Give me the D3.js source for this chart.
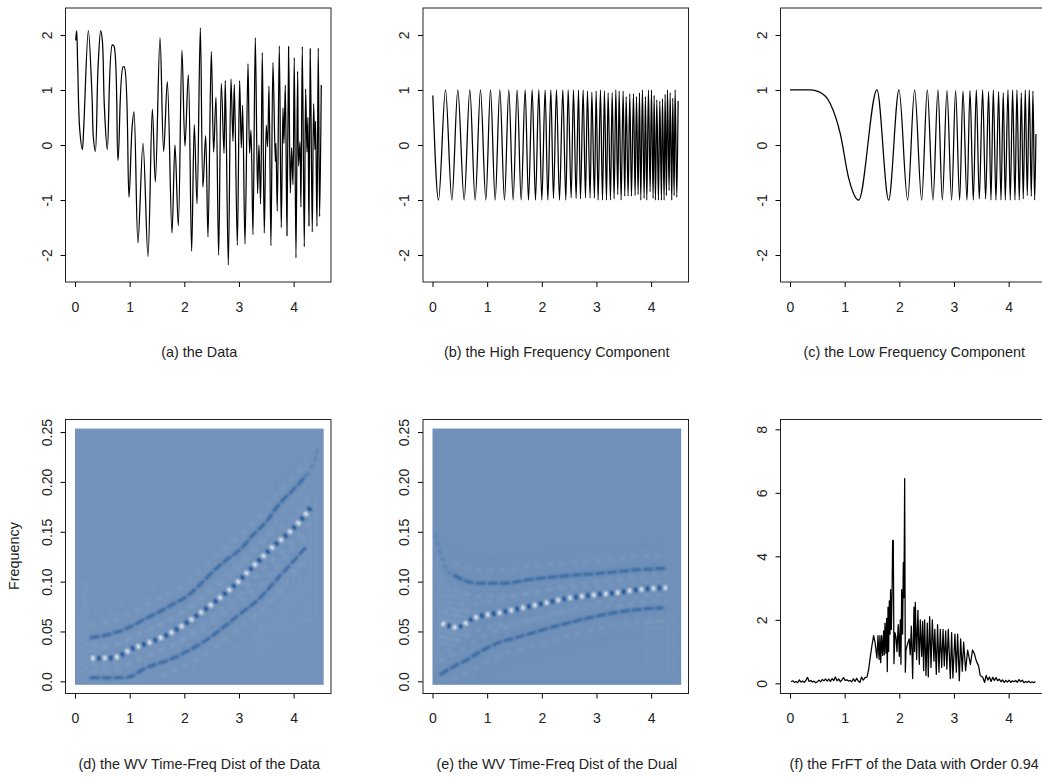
<!DOCTYPE html>
<html>
<head>
<meta charset="utf-8">
<script src="https://cdnjs.cloudflare.com/ajax/libs/d3/7.8.5/d3.min.js"></script>
<style>
  html, body { margin: 0; padding: 0; background: #fff; overflow: hidden; }
  text { font-family: "Liberation Sans", Arial, sans-serif; fill: #222; }
</style>
</head>
<body>
<div id="graph-container"></div>
<script>
// values (turning points of each trace)
const dataT = [0.012,0.03,0.049,0.085,0.134,0.159,0.244,0.311,0.335,0.372,0.421,0.47,0.5,0.537,0.591,0.683,0.713,0.787,0.878,0.902,0.988,1.043,1.079,1.152,1.244,1.335,1.415,1.47,1.555,1.622,1.689,1.774,1.829,1.89,1.957,2.012,2.073,2.134,2.183,2.232,2.293,2.341,2.39,2.433,2.494,2.537,2.579,2.628,2.677,2.726,2.75,2.805,2.854,2.89,2.915,2.97,3.012,3.043,3.067,3.11,3.165,3.195,3.22,3.256,3.299,3.341,3.366,3.396,3.427,3.463,3.5,3.524,3.549,3.585,3.622,3.665,3.677,3.701,3.738,3.774,3.805,3.823,3.848,3.878,3.909,3.939,3.963,3.988,4.012,4.043,4.073,4.091,4.116,4.134,4.159,4.195,4.22,4.244,4.262,4.28,4.305,4.341,4.366,4.39,4.402,4.427,4.451,4.476,4.506];
const dataY = [1.9,2.08,1.45,0.3,-0.08,0.3,2.08,0.9,0.15,-0.12,1.4,2.08,1.9,0.7,-0.08,1.82,1.8,-0.28,1.42,1.42,-0.95,0.3,0.6,-1.78,0.03,-2.03,0.65,-0.67,1.95,-0.12,1.15,-1.6,0,-1.47,1.72,-0.02,1.28,-1.93,0.37,-1.07,2.13,-0.77,0.17,-1.67,1.7,-0.13,0.87,-2,1.12,-0.15,1.17,-2.18,1.2,0.07,1.1,-1.82,1.17,-0.05,0.72,-1.8,1.48,-0.15,0.27,-1.63,1.95,-0.88,0,-1.07,1.68,-1.6,0.36,-0.03,1.07,-1.83,1.5,-0.3,0.03,-1.2,1.8,-1.5,0.67,0.03,1.09,-1.65,1.79,-0.87,-0.05,-0.72,1.59,-2.05,1.34,-0.38,0.06,-1.13,1.79,-1.85,1.02,-0.13,0.5,-1.47,1.75,-1.58,0.75,-0.08,0.43,-1.48,1.76,-1.3,1.09];

const highT = [0.006,0.11,0.238,0.354,0.463,0.579,0.683,0.78,0.878,0.976,1.061,1.146,1.232,1.317,1.396,1.476,1.549,1.622,1.695,1.756,1.823,1.884,1.945,2,2.061,2.11,2.165,2.213,2.268,2.323,2.384,2.439,2.482,2.537,2.579,2.628,2.671,2.707,2.756,2.799,2.835,2.884,2.915,2.963,2.994,3.03,3.073,3.11,3.146,3.183,3.213,3.256,3.287,3.323,3.354,3.39,3.415,3.451,3.488,3.518,3.543,3.579,3.61,3.64,3.677,3.707,3.732,3.762,3.787,3.811,3.841,3.872,3.896,3.921,3.951,3.982,4.006,4.037,4.055,4.079,4.104,4.134,4.159,4.189,4.207,4.238,4.256,4.28,4.299,4.329,4.348,4.378,4.396,4.421,4.439,4.47,4.494];
const highY = [0.9,-1,1,-1,1,-1,1,-1,1,-1,1,-1,1,-1,1,-1,1,-1,1,-1,1,-1,1,-1,1,-1,1,-0.97,1,-1,1,-1,1,-0.96,1,-0.97,1,-0.98,1,-0.96,0.98,-0.96,0.96,-0.96,0.98,-1,1,-1,0.98,-1,0.95,-1,0.95,-0.98,1,-0.9,0.98,-1,0.98,-0.93,0.88,-0.93,0.93,-0.93,0.93,-0.92,0.88,-0.9,0.95,-1,1,-0.97,0.88,-1,1,-0.85,1,-0.97,0.9,-1,0.82,-1,0.8,-1,0.84,-1,0.92,-0.92,1,-0.83,0.95,-1,0.85,-0.92,1,-0.95,0.8];

const lowT = [0,0.159,0.372,0.524,0.738,0.921,1.073,1.256,1.591,1.805,1.994,2.152,2.28,2.409,2.512,2.616,2.707,2.787,2.872,2.957,3.03,3.104,3.165,3.238,3.293,3.354,3.409,3.463,3.524,3.579,3.634,3.677,3.72,3.768,3.817,3.86,3.902,3.939,3.988,4.03,4.073,4.116,4.152,4.195,4.232,4.268,4.305,4.341,4.378,4.415,4.445,4.476,4.5];
const lowY = [1,1,1,0.97,0.75,0.2,-0.6,-1,1,-1,1,-1,1,-1,1,-1,1,-1,0.99,-1,0.99,-1,0.98,-1,0.99,-1,1,-0.98,1,-0.98,0.97,-1,1,-1,0.97,-1,0.95,-1,1,-1,1,-1,1,-1,0.95,-0.98,1,-0.92,1,-0.93,0.98,-1,0.2];

const frftT = [0.02,0.05,0.08,0.11,0.14,0.17,0.2,0.23,0.26,0.29,0.32,0.35,0.38,0.41,0.44,0.47,0.5,0.53,0.56,0.59,0.62,0.65,0.68,0.71,0.74,0.77,0.8,0.83,0.86,0.89,0.92,0.95,0.98,1.01,1.04,1.07,1.1,1.13,1.16,1.19,1.22,1.25,1.28,1.31,1.34,1.37,1.41,1.44,1.47,1.5,1.53,1.555,1.58,1.59,1.61,1.63,1.646,1.66,1.677,1.695,1.713,1.726,1.738,1.756,1.768,1.78,1.793,1.805,1.817,1.83,1.84,1.854,1.866,1.878,1.89,1.902,1.92,1.94,1.957,1.98,2,2.018,2.03,2.043,2.06,2.073,2.085,2.098,2.11,2.122,2.152,2.18,2.2,2.22,2.244,2.268,2.28,2.293,2.317,2.34,2.366,2.384,2.41,2.427,2.445,2.463,2.488,2.512,2.53,2.555,2.58,2.604,2.634,2.65,2.677,2.7,2.726,2.75,2.775,2.8,2.823,2.848,2.87,2.896,2.933,2.957,2.98,3.018,3.043,3.067,3.098,3.122,3.152,3.177,3.213,3.25,3.3,3.34,3.37,3.41,3.45,3.48,3.524,3.56,3.59,3.62,3.65,3.68,3.71,3.74,3.77,3.8,3.83,3.86,3.89,3.92,3.95,3.98,4.01,4.04,4.07,4.1,4.13,4.16,4.19,4.22,4.25,4.28,4.31,4.34,4.37,4.4,4.43,4.46,4.49];
const frftY = [0.05,0.08,0.03,0.06,0.02,0.11,0.04,0.07,0.03,0.09,0.19,0.06,0.09,0.04,0.07,0.02,0.05,0.1,0.05,0.12,0.08,0.14,0.07,0.13,0.06,0.15,0.09,0.2,0.08,0.14,0.05,0.11,0.18,0.09,0.11,0.07,0.09,0.05,0.14,0.06,0.16,0.07,0.03,0.2,0.1,0.17,0.2,0.45,0.85,1.2,1.5,1.3,0.95,0.8,1.5,0.75,1.5,0.65,1.5,0.88,1.65,0.9,1.9,0.95,2.05,0.37,2.4,1,2.6,1.55,2.95,1.7,2.7,4.5,4.5,0.62,1.6,1.45,1,1.85,0.85,2,0.6,2.95,1.55,3.8,2.7,6.45,0.35,1.05,1.25,1.4,0.9,1.8,0.15,2.4,1,2.55,0.75,2.3,0.6,2,0.85,1.95,0.4,2,0.25,1.9,0.2,2.1,0.5,2,0.7,1.7,0.28,1.85,0.35,1.7,0.5,1.7,0.55,1.65,0.45,1.7,0.15,1.6,0.17,1.55,0.35,1.55,0.08,1.4,0.38,1.3,0.4,1.05,0.6,1.05,0.95,0.7,0.55,0.25,0.2,0.03,0.25,0.1,0.2,0.06,0.19,0.09,0.18,0.08,0.13,0.05,0.11,0.03,0.09,0.04,0.1,0.03,0.08,0.05,0.09,0.03,0.12,0.05,0.1,0.02,0.06,0.03,0.07,0.02,0.05,0.02,0.06];

// ridges of the two time-frequency images
const dUpperT = [0.268,0.726,0.97,1.244,1.549,1.793,2.037,2.28,2.524,2.768,3.012,3.256,3.5,3.744,3.988,4.232];
const dUpperF = [0.0434,0.0488,0.0535,0.0615,0.0699,0.0775,0.0849,0.0966,0.11,0.1217,0.1317,0.1467,0.16,0.1785,0.1918,0.2069];
const dLowerT = [0.268,0.94,1.305,1.793,2.037,2.402,2.768,3.073,3.378,3.683,3.988,4.232];
const dLowerF = [0.0037,0.0037,0.0137,0.0231,0.0297,0.0414,0.0565,0.0699,0.0832,0.1016,0.12,0.135];
const dMiddleT = [0.3,0.695,1.061,1.427,1.793,2.159,2.524,2.89,3.256,3.622,3.866,4.11,4.323];
const dMiddleF = [0.0231,0.0237,0.0331,0.0404,0.0498,0.0632,0.0782,0.0949,0.115,0.135,0.1467,0.1601,0.1751];
const dFadeT = [4.232,4.384,4.45];
const dFadeF = [0.2069,0.2219,0.235];

const eUpperT = [0.384,0.567,0.811,1.238,1.848,2.457,3.067,3.677,4.287];
const eUpperF = [0.1066,0.1016,0.0983,0.0983,0.1026,0.1059,0.1083,0.1116,0.1133];
const eLowerT = [0.14,0.323,0.567,0.872,1.177,1.482,1.848,2.152,2.457,2.823,3.189,3.677,4.226];
const eLowerF = [0.0064,0.013,0.0197,0.0297,0.0381,0.0431,0.0488,0.0538,0.0582,0.0632,0.0675,0.0715,0.0739];
const eMiddleT = [0.171,0.445,0.75,1.238,1.604,2.03,2.457,2.945,3.372,3.799,4.287];
const eMiddleF = [0.0582,0.0541,0.0632,0.0689,0.0732,0.0782,0.0832,0.0866,0.0889,0.0922,0.0939];
const eFadeT = [0.049,0.14,0.232,0.384];
const eFadeF = [0.1484,0.1283,0.115,0.1066];

// patches of fine ripple: column time, lowest and highest frequency
const dRippleT = [0.06,0.1,0.14,0.18,0.22,3.3,3.4,3.5,3.6,3.7,3.8,3.9,4,4.1,4.2,4.3,4.4];
const dRippleLo = [0.008,0.008,0.01,0.012,0.012,0.02,0.025,0.03,0.04,0.045,0.05,0.05,0.055,0.06,0.06,0.06,0.06];
const dRippleHi = [0.055,0.07,0.09,0.1,0.1,0.07,0.075,0.085,0.095,0.1,0.11,0.115,0.125,0.135,0.15,0.165,0.19];
const eRippleT = [0.08,0.12,0.16,0.2,0.24,0.28,0.32,0.36,0.4,0.44,0.48,0.52,0.56,0.6,0.64,0.68,3.9,4,4.1,4.2,4.3,4.4];
const eRippleLo = [0.015,0.02,0.02,0.025,0.03,0.03,0.03,0.035,0.035,0.04,0.04,0.04,0.045,0.045,0.05,0.05,0.015,0.015,0.01,0.01,0.01,0.01];
const eRippleHi = [0.14,0.125,0.115,0.105,0.1,0.095,0.095,0.09,0.09,0.09,0.09,0.09,0.09,0.09,0.09,0.09,0.06,0.06,0.065,0.065,0.07,0.07];

const timeTicks = [0, 1, 2, 3, 4];
const ampTicks = [-2, -1, 0, 1, 2];
const freqTicks = [0, 0.05, 0.1, 0.15, 0.2, 0.25];
const frftTicks = [0, 2, 4, 6, 8];
const fringeOffsets = [-0.024, -0.013, 0.013, 0.024];

const boxW = 265.5, boxH = 274;
const xDomain = [-0.174, 4.684];

let svg = d3.select("#graph-container")
  .append("svg")
  .attr("width", 1042)
  .attr("height", 777)
  .style("display", "block");

svg.append("defs").append("filter").attr("id", "soft")
  .attr("x", "-5%").attr("y", "-5%").attr("width", "110%").attr("height", "110%")
  .append("feGaussianBlur").attr("stdDeviation", 0.8);

function makePanel(left, top, yDomain, yTicks, yFormat, caption) {
  let g = svg.append("g").attr("transform", "translate(" + left + "," + top + ")");
  let x = d3.scaleLinear().domain(xDomain).range([0, boxW]);
  let y = d3.scaleLinear().domain(yDomain).range([boxH, 0]);

  let xAxis = g.append("g")
    .attr("transform", "translate(0," + boxH + ")")
    .call(d3.axisBottom(x).tickValues(timeTicks).tickFormat(d => String(d)).tickSize(5).tickPadding(15));
  xAxis.select(".domain").remove();
  xAxis.selectAll("text").attr("font-size", 14).attr("font-family", null);

  let yAxis = g.append("g")
    .call(d3.axisLeft(y).tickValues(yTicks).tickFormat(yFormat).tickSize(5));
  yAxis.select(".domain").remove();
  // R style: labels turned along the axis
  yAxis.selectAll("text")
    .attr("font-size", 14)
    .attr("font-family", null)
    .attr("text-anchor", "middle")
    .attr("x", null).attr("dy", null)
    .attr("transform", "translate(-14,0) rotate(-90)");

  g.append("text")
    .attr("x", boxW / 2 + 1)
    .attr("y", boxH + 75)
    .attr("text-anchor", "middle")
    .attr("font-size", 14.4)
    .text(caption);

  return {g, x, y};
}

function addBox(p) {
  p.g.append("rect")
    .attr("width", boxW).attr("height", boxH)
    .attr("fill", "none").attr("stroke", "#222").attr("stroke-width", 1);
}

function drawTrace(p, ts, vs, curve) {
  let line = d3.line().x(d => p.x(d[0])).y(d => p.y(d[1])).curve(curve);
  p.g.append("path")
    .datum(d3.zip(ts, vs))
    .attr("d", line)
    .attr("fill", "none")
    .attr("stroke", "#000")
    .attr("stroke-width", 1.25)
    .attr("stroke-linejoin", "round");
}

function drawImage(p, bg, upper, lower, middle, fade, ripple) {
  p.g.append("rect")
    .attr("x", p.x(0)).attr("y", p.y(0.2535))
    .attr("width", p.x(4.55) - p.x(0))
    .attr("height", p.y(-0.0035) - p.y(0.2535))
    .attr("fill", bg);

  let inner = p.g.append("g").attr("filter", "url(#soft)");
  let line = d3.line().x(d => p.x(d[0])).y(d => p.y(d[1])).curve(d3.curveMonotoneX);

  // fine ripple patches
  inner.selectAll("line.ripple")
    .data(d3.zip(ripple[0], ripple[1], ripple[2]))
    .enter()
    .append("line")
      .attr("class", "ripple")
      .attr("x1", d => p.x(d[0]))
      .attr("x2", d => p.x(d[0]))
      .attr("y1", d => p.y(d[1]))
      .attr("y2", d => p.y(d[2]))
      .attr("stroke", "#a9c0dc")
      .attr("stroke-opacity", 0.22)
      .attr("stroke-width", 1.5)
      .attr("stroke-dasharray", "3 3");

  // faint side fringes next to the ridges
  [upper, lower, middle].forEach(r => {
    fringeOffsets.forEach(off => {
      inner.append("path")
        .datum(d3.zip(r[0], r[1].map(f => Math.max(0.001, f + off))))
        .attr("d", line)
        .attr("fill", "none")
        .attr("stroke", Math.abs(off) > 0.015 ? "#5b80b0" : "#9db5d4")
        .attr("stroke-opacity", 0.2)
        .attr("stroke-width", 3)
        .attr("stroke-dasharray", "6 6");
    });
  });

  inner.append("path")
    .datum(d3.zip(fade[0], fade[1]))
    .attr("d", line)
    .attr("fill", "none")
    .attr("stroke", "#4f79ae")
    .attr("stroke-opacity", 0.6)
    .attr("stroke-width", 3)
    .attr("stroke-dasharray", "5 3");

  [upper, lower].forEach(r => {
    inner.append("path")
      .datum(d3.zip(r[0], r[1]))
      .attr("d", line)
      .attr("fill", "none")
      .attr("stroke", "#30649f")
      .attr("stroke-opacity", 0.9)
      .attr("stroke-width", 3)
      .attr("stroke-dasharray", "10 2");
  });

  // middle ridge flips between dark and pale
  let mid = d3.zip(middle[0], middle[1]);
  inner.append("path").datum(mid).attr("d", line)
    .attr("fill", "none").attr("stroke", "#f0f4f9").attr("stroke-width", 4.5)
    .attr("stroke-dasharray", "3 9");
  inner.append("path").datum(mid).attr("d", line)
    .attr("fill", "none").attr("stroke", "#0b4a92").attr("stroke-width", 4.5)
    .attr("stroke-dasharray", "3 9").attr("stroke-dashoffset", -6);
}

// top row
const intFormat = d => String(d);
let pa = makePanel(65.5, 8, [-2.49, 2.49], ampTicks, intFormat, "(a) the Data");
drawTrace(pa, dataT, dataY, d3.curveCatmullRom.alpha(0.5));
addBox(pa);

let pb = makePanel(423, 8, [-2.49, 2.49], ampTicks, intFormat, "(b) the High Frequency Component");
drawTrace(pb, highT, highY, d3.curveMonotoneX);
addBox(pb);

let pc = makePanel(780.5, 8, [-2.49, 2.49], ampTicks, intFormat, "(c) the Low Frequency Component");
drawTrace(pc, lowT, lowY, d3.curveMonotoneX);
addBox(pc);

// bottom row
const freqFormat = d => d === 0 ? "0.0" : d3.format(".2f")(d);
let pd = makePanel(65.5, 419.5, [-0.0122, 0.2626], freqTicks, freqFormat, "(d) the WV Time-Freq Dist of the Data");
drawImage(pd, "#7393bb", [dUpperT, dUpperF], [dLowerT, dLowerF], [dMiddleT, dMiddleF], [dFadeT, dFadeF], [dRippleT, dRippleLo, dRippleHi]);
addBox(pd);

let pe = makePanel(423, 419.5, [-0.0122, 0.2626], freqTicks, freqFormat, "(e) the WV Time-Freq Dist of the Dual");
drawImage(pe, "#6f90b8", [eUpperT, eUpperF], [eLowerT, eLowerF], [eMiddleT, eMiddleF], [eFadeT, eFadeF], [eRippleT, eRippleLo, eRippleHi]);
addBox(pe);

let pf = makePanel(780.5, 419.5, [-0.32, 8.31], frftTicks, intFormat, "(f) the FrFT of the Data with Order 0.94");
drawTrace(pf, frftT, frftY, d3.curveLinear);
addBox(pf);

svg.append("text")
  .attr("transform", "translate(19,556) rotate(-90)")
  .attr("text-anchor", "middle")
  .attr("font-size", 14.4)
  .text("Frequency");
</script>
</body>
</html>
